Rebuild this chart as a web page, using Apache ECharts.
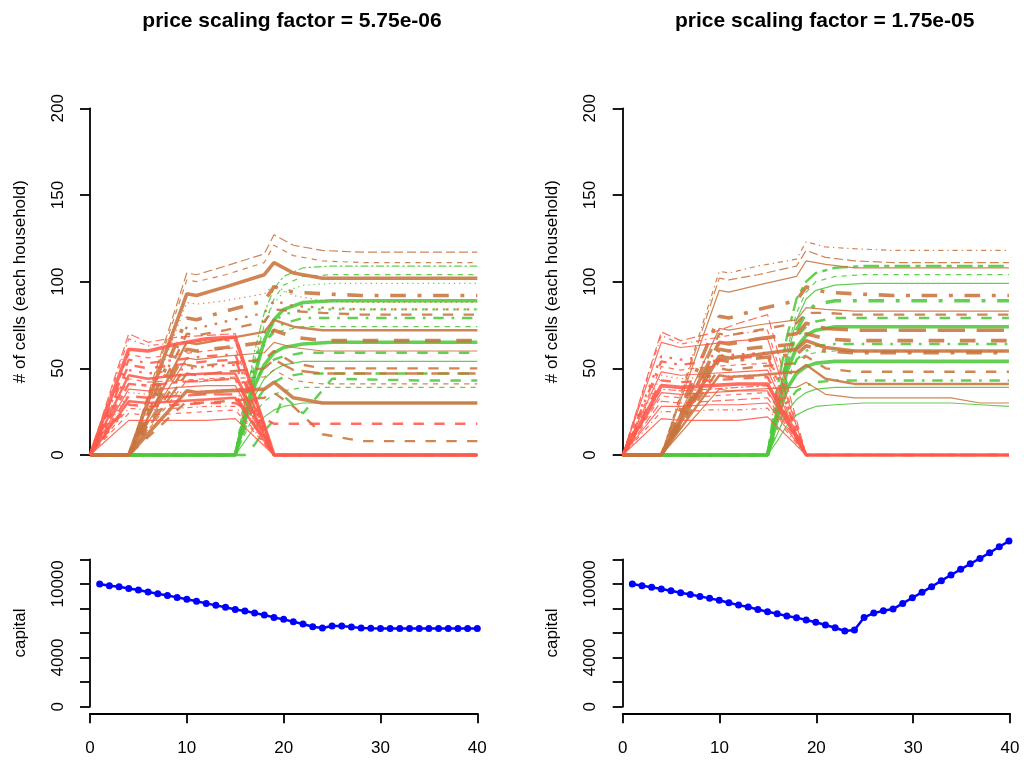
<!DOCTYPE html>
<html><head><meta charset="utf-8">
<script src="https://cdn.jsdelivr.net/npm/echarts/dist/echarts.min.js"></script>
<style>html,body{margin:0;padding:0;background:#fff}#c{width:1024px;height:761px}</style>
</head><body><div id="c"></div>
<script>
// ---------------- DATA ----------------
const titles = ['price scaling factor = 5.75e-06', 'price scaling factor = 1.75e-05'];
const topYTicks = [0, 50, 100, 150, 200];
const capitalTickLabels = [0, 4000, 10000];
const xTicks = [0, 10, 20, 30, 40];

// key time points for each household group
const redX = [0, 4, 6, 9, 12, 15, 19, 40];
const brownX = [0, 4, 10, 11, 14, 18, 19, 21, 24, 28, 34, 37, 40];
const greenX = [0, 15, 16, 17, 18, 19, 20, 22, 25, 34, 37, 40];

const leftRed = [
  [0,70,65,68,69,70,0,0],
  [0,67,63,65,66,66,0,0],
  [0,61,60,64,67,68,0,0],
  [0,58,56,58,60,62,0,0],
  [0,55,53,55,57,58,0,0],
  [0,52,50,52,54,55,0,0],
  [0,49,47,49,51,52,0,0],
  [0,46,44,46,47,47,0,0],
  [0,44,42,43,44,45,0,0],
  [0,41,40,42,43,44,0,0],
  [0,38,37,39,40,40,0,0],
  [0,36,35,36,37,38,0,0],
  [0,34,33,34,35,35,0,0],
  [0,31,30,31,32,33,0,0],
  [0,29,28,29,30,30,18,18],
  [0,27,26,27,28,28,0,0],
  [0,24,23,24,25,26,0,0],
  [0,20,20,20,20,21,0,0]
];
const leftRedStyle = [[5,1],[4,1],[1,3],[2,1],[4,2],[2,2],[3,2],[1,2],[2,1],[6,2],[1,1],[3,1],[5,2],[1,2],[2,2],[4,1],[2,1],[1,1]];

const leftBrown = [
  [0,0,105,104,109,116,127,121,118,117,117,117,117],
  [0,0,101,100,104,111,121,115,112,111,111,111,111],
  [0,0,93,92,97,104,111,105,102,102,102,102,102],
  [0,0,88,87,89,93,98,92,89,88,88,88,88],
  [0,0,79,78,83,89,97,94,93,92,92,92,92],
  [0,0,74,73,77,82,89,86,85,84,84,84,84],
  [0,0,70,69,72,77,84,83,82,81,81,81,81],
  [0,0,65,64,67,71,78,74,72,72,72,72,72],
  [0,0,61,60,62,65,72,68,66,66,66,66,66],
  [0,0,56,55,57,59,65,62,60,60,60,60,60],
  [0,0,52,51,53,55,60,53,50,50,50,50,50],
  [0,0,47,46,48,50,55,49,47,47,47,47,47],
  [0,0,43,42,44,45,49,43,41,41,41,41,41],
  [0,0,37,36,37,38,42,33,30,30,30,30,30],
  [0,0,31,30,31,33,36,28,12,8,8,8,8]
];
const leftBrownStyle = [[5,1],[2,1],[1,3],[3,1],[4,3],[3,2],[2,2],[1,2],[2,3],[1,1],[2,2],[5,2],[2,1],[1,3],[2,2]];

const leftGreen = [
  [0,0,30,60,82,96,103,108,109,109,109,109],
  [0,0,25,52,75,90,98,103,104,104,104,104],
  [0,0,28,55,76,88,94,98,99,99,99,99],
  [0,0,22,46,66,78,84,88,89,89,89,89],
  [0,0,30,55,70,77,81,84,84,84,84,84],
  [0,0,26,50,64,72,76,79,79,79,79,79],
  [0,0,35,55,65,70,72,74,74,74,74,74],
  [0,0,20,40,52,59,62,64,65,65,65,65],
  [0,0,25,42,51,55,57,59,59,59,59,59],
  [0,0,18,34,44,49,52,54,54,54,54,54],
  [0,0,15,30,38,42,45,47,47,47,47,47],
  [0,0,0,6,14,20,34,24,44,43,43,43],
  [0,0,12,24,31,35,37,39,39,39,39,39],
  [0,0,8,16,22,26,28,30,30,30,30,30]
];
const leftGreenStyle = [[6,1],[2,1],[3,1],[1,3],[3,2],[4,2],[2,1],[1,3],[2,2],[1,1],[2,2],[2,2],[2,1],[1,1]];

const rightRed = [
  [0,71,66,70,76,81,0,0],
  [0,69,64,67,70,72,0,0],
  [0,65,62,64,66,67,0,0],
  [0,57,55,57,58,59,0,0],
  [0,54,52,54,56,57,0,0],
  [0,51,49,51,52,53,0,0],
  [0,48,46,47,48,49,0,0],
  [0,46,44,45,46,46,0,0],
  [0,43,42,43,44,45,0,0],
  [0,40,39,40,41,41,0,0],
  [0,38,37,38,39,40,0,0],
  [0,36,35,36,37,37,0,0],
  [0,34,33,34,35,36,0,0],
  [0,31,30,31,32,33,0,0],
  [0,28,28,29,29,30,0,0],
  [0,25,25,26,26,27,0,0],
  [0,21,20,20,20,22,0,0]
];
const rightRedStyle = [[5,1],[4,1],[1,1],[3,2],[4,2],[2,1],[1,1],[3,1],[2,2],[1,3],[6,1],[1,1],[2,1],[5,1],[1,1],[4,1],[1,1]];

const rightBrown = [
  [0,0,106,105,109,113,123,120,119,118,118,118,118],
  [0,0,102,101,104,109,118,114,112,111,111,111,111],
  [0,0,95,94,98,103,112,110,108,108,108,108,108],
  [0,0,80,79,84,89,97,94,93,92,92,92,92],
  [0,0,73,72,75,78,85,84,83,83,83,83,83],
  [0,0,70,69,72,76,82,82,81,81,81,81,81],
  [0,0,65,64,67,70,76,73,72,72,72,72,72],
  [0,0,61,60,62,64,70,67,66,66,66,66,66],
  [0,0,57,56,58,61,66,62,60,60,60,60,60],
  [0,0,55,54,56,58,63,60,59,59,59,59,59],
  [0,0,50,49,51,53,57,50,48,48,48,48,48],
  [0,0,46,45,46,48,52,44,41,41,41,41,41],
  [0,0,38,37,38,39,42,35,33,33,33,30,30]
];
const rightBrownStyle = [[4,1],[5,1],[1,1],[4,3],[1,1],[2,2],[5,3],[2,3],[1,3],[4,3],[2,2],[1,2],[1,1]];

const rightGreen = [
  [0,0,38,68,90,100,105,108,109,109,109,109],
  [0,0,30,60,82,94,100,103,104,104,104,104],
  [0,0,28,56,78,90,95,98,99,99,99,99],
  [0,0,26,52,72,82,87,89,89,89,89,89],
  [0,0,30,55,68,74,77,79,79,79,79,79],
  [0,0,25,48,62,69,72,74,74,74,74,74],
  [0,0,22,42,55,60,63,64,64,64,64,64],
  [0,0,20,38,47,51,53,54,54,54,54,54],
  [0,0,15,30,37,40,42,43,43,43,43,43],
  [0,0,12,25,32,36,38,39,39,39,39,39],
  [0,0,8,17,23,26,28,29,30,30,29,28],
  [0,0,24,44,54,58,59,60,60,60,60,60]
];
const rightGreenStyle = [[6,2],[2,1],[1,1],[4,3],[2,2],[1,3],[4,2],[1,3],[4,2],[1,1],[1,1],[2,1]];

const capitalX = [1,2,3,4,5,6,7,8,9,10,11,12,13,14,15,16,17,18,19,20,21,22,23,24,25,26,27,28,29,30,31,32,33,34,35,36,37,38,39,40];
const leftCapital = [9990,9850,9770,9630,9500,9330,9200,9060,8900,8740,8580,8410,8250,8090,7920,7790,7630,7460,7270,7110,6920,6730,6510,6400,6570,6570,6490,6400,6380,6370,6370,6370,6370,6370,6370,6370,6360,6360,6360,6360];
const rightCapital = [9990,9850,9720,9580,9440,9280,9140,8980,8820,8660,8460,8270,8110,7920,7730,7570,7380,7250,7060,6870,6650,6430,6160,6240,7270,7620,7810,7950,8410,8870,9310,9770,10260,10720,11180,11640,12070,12530,13020,13480];

// ---------------- RENDER ----------------
const FONT = '"Liberation Sans", Arial, Helvetica, sans-serif';
const COL = {red: '#FF5A4B', brown: '#C8743C', green: '#4FC83B'};
const LTY = {1: null, 2: [4,4], 3: [1,3], 4: [1,3,4,3], 5: [7,3], 6: [2,2,6,2]};
function lineType(lty, lwd) {
  const p = LTY[lty];
  if (!p) return 'solid';
  const u = Math.max(lwd, 1) * 1.3;
  return p.map(v => v * u);
}

const panels = [
  {dx: 0, red: leftRed, redS: leftRedStyle, brown: leftBrown, brownS: leftBrownStyle, green: leftGreen, greenS: leftGreenStyle, cap: leftCapital, title: titles[0]},
  {dx: 532.7, red: rightRed, redS: rightRedStyle, brown: rightBrown, brownS: rightBrownStyle, green: rightGreen, greenS: rightGreenStyle, cap: rightCapital, title: titles[1]}
];

// plot region (R style: 4% padding on x)
const PX = 9.6825;            // pixels per time unit
const XMIN = -0.56, XMAX = 41.56;
const regionL = 90 + XMIN * PX, regionW = (XMAX - XMIN) * PX;
const topT = 108.3, topH = 346.7;
const botT = 559.3, botH = 147.4;
const xAxisY = 713.3;

const grid = [], xAxis = [], yAxis = [], series = [], title = [];
const axisLineStyle = {color: '#000', width: 1.8};
const labelStyle = {color: '#000', fontFamily: FONT, fontSize: 17};

panels.forEach((p, k) => {
  const gTop = 3 * k, gBot = 3 * k + 1, gX = 3 * k + 2;
  grid.push({left: regionL + p.dx, width: regionW, top: topT, height: topH});
  grid.push({left: regionL + p.dx, width: regionW, top: botT, height: botH});
  grid.push({left: 90 + p.dx, width: 40 * PX, top: xAxisY - 1, height: 1});
  title.push({text: p.title, left: 90 + p.dx + 197, top: 6, textAlign: 'center',
    textStyle: {fontFamily: FONT, fontSize: 21, fontWeight: 'bold', color: '#000'}});

  xAxis.push({gridIndex: gTop, type: 'value', min: XMIN, max: XMAX, show: false});
  xAxis.push({gridIndex: gBot, type: 'value', min: XMIN, max: XMAX, show: false});
  xAxis.push({gridIndex: gX, type: 'value', min: 0, max: 40, interval: 10,
    axisLine: {show: true, lineStyle: axisLineStyle},
    axisTick: {show: true, length: 10, lineStyle: axisLineStyle},
    axisLabel: Object.assign({margin: 27, formatter: v => xTicks.includes(v) ? String(v) : ''}, labelStyle),
    splitLine: {show: false}});

  yAxis.push({gridIndex: gTop, type: 'value', min: 0, max: 200, interval: 50,
    name: '# of cells (each household)', nameLocation: 'middle', nameGap: 56, nameRotate: 90,
    nameTextStyle: {color: '#000', fontFamily: FONT, fontSize: 17},
    axisLine: {show: true, lineStyle: axisLineStyle},
    axisTick: {show: true, length: 10, lineStyle: axisLineStyle},
    axisLabel: Object.assign({rotate: 90, margin: 18, formatter: v => topYTicks.includes(v) ? String(v) : ''}, labelStyle),
    splitLine: {show: false}});
  yAxis.push({gridIndex: gBot, type: 'value', min: 0, max: 12000, interval: 2000,
    name: 'capital', nameLocation: 'middle', nameGap: 56, nameRotate: 90,
    nameTextStyle: {color: '#000', fontFamily: FONT, fontSize: 17},
    axisLine: {show: true, lineStyle: axisLineStyle},
    axisTick: {show: true, length: 10, lineStyle: axisLineStyle},
    axisLabel: Object.assign({rotate: 90, margin: 18, formatter: v => capitalTickLabels.includes(v) ? String(v) : ''}, labelStyle),
    splitLine: {show: false}});
  yAxis.push({gridIndex: gX, type: 'value', show: false});

  const addGroup = (rows, styles, xs, color) => {
    rows.forEach((vals, i) => {
      const [lty, lwd] = styles[i];
      series.push({type: 'line', xAxisIndex: gTop, yAxisIndex: gTop, symbol: 'none', silent: true, clip: false,
        data: xs.map((x, j) => [x, vals[j]]),
        lineStyle: {color: color, width: lwd * 1.2, type: lineType(lty, lwd), opacity: 0.88}});
    });
  };
  addGroup(p.green, p.greenS, greenX, COL.green);
  addGroup(p.brown, p.brownS, brownX, COL.brown);
  addGroup(p.red, p.redS, redX, COL.red);

  series.push({type: 'line', xAxisIndex: gBot, yAxisIndex: gBot, clip: false, silent: true,
    symbol: 'circle', symbolSize: 7,
    data: capitalX.map((x, j) => [x, p.cap[j]]),
    itemStyle: {color: '#0000FF'}, lineStyle: {color: '#0000FF', width: 2.5}});
});

const chart = echarts.init(document.getElementById('c'), null, {renderer: 'canvas'});
chart.setOption({animation: false, backgroundColor: '#fff', title, grid, xAxis, yAxis, series});
</script></body></html>
